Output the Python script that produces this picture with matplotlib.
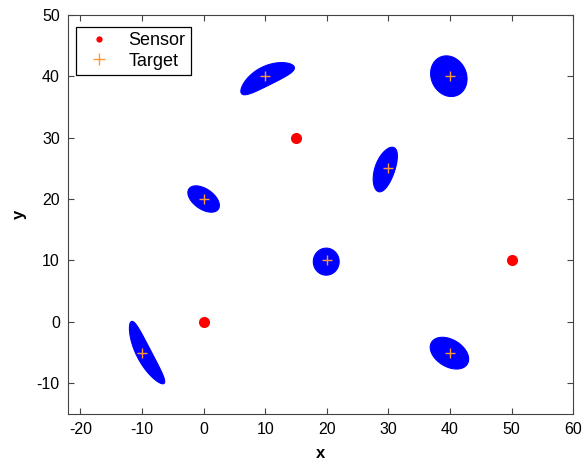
import numpy as np
import matplotlib
matplotlib.use("Agg")
import matplotlib.pyplot as plt

plt.rcParams['font.family'] = ['Liberation Sans', 'DejaVu Sans']
plt.rcParams['axes.unicode_minus'] = False

# sensor and target positions
sensor_x = [0, 15, 50]
sensor_y = [0, 30, 10]
target_x = [-10, 0, 10, 20, 30, 40, 40]
target_y = [-5, 20, 40, 10, 25, 40, -5]

# uncertainty regions: centre, semi axes, angle (deg), bend
blob_cx = [-9.1, 0.0, 10.4, 19.9, 29.6, 39.8, 39.9]
blob_cy = [-5.0, 20.0, 39.4, 9.8, 24.8, 40.0, -5.1]
blob_a = [5.7, 2.9, 4.8, 2.2, 3.8, 3.4, 3.4]
blob_b = [1.2, 1.65, 1.55, 2.1, 1.6, 2.85, 2.2]
blob_ang = [117.5, -35, 26.6, 90, 71, 115, -31.5]
blob_bend = [0.6, 0.0, 0.7, 0.0, 0.2, 0.0, 0.0]


def banana(cx, cy, a, b, ang, bend, n=200):
    t = np.linspace(0, 2 * np.pi, n)
    u = a * np.cos(t)
    v = b * np.sin(t) + bend * (1 - (u / a) ** 2)
    th = np.deg2rad(ang)
    x = cx + u * np.cos(th) - v * np.sin(th)
    y = cy + u * np.sin(th) + v * np.cos(th)
    return x, y


fig = plt.figure(figsize=(5.82, 4.62), dpi=100)
ax = fig.add_axes([0.117, 0.104, 0.868, 0.864])

for i in range(len(blob_cx)):
    bx, by = banana(blob_cx[i], blob_cy[i], blob_a[i], blob_b[i], blob_ang[i], blob_bend[i])
    ax.fill(bx, by, color=(0, 0, 1), lw=0.8, ec=(0, 0, 1), zorder=1)

ax.plot(sensor_x, sensor_y, 'o', color='red', ms=8, mec='none', ls='none',
        label='Sensor', zorder=3)
ax.plot(target_x, target_y, '+', color='#FF9933', ms=7, mew=1.0, ls='none',
        label='Target', zorder=3)

ax.set_xlim(-22, 60)
ax.set_ylim(-15, 50)
ax.set_xticks(np.arange(-20, 61, 10))
ax.set_yticks(np.arange(-10, 51, 10))
ax.tick_params(direction='in', top=True, right=True, labelsize=11.5, length=4,
               color='#444444', pad=6)
for s in ax.spines.values():
    s.set_color('#444444')

ax.set_xlabel('x', fontsize=12, fontweight='bold', labelpad=6)
ax.set_ylabel('y', fontsize=12, fontweight='bold', labelpad=7)

leg = ax.legend(loc='upper left', bbox_to_anchor=(8 / 505, 1 - 12 / 399),
                fontsize=13, fancybox=False, edgecolor='black', framealpha=1,
                borderaxespad=0, handlelength=1.9, handletextpad=0.7,
                borderpad=0.3, labelspacing=0.2)
leg.get_frame().set_linewidth(0.9)
leg.legend_handles[0].set_markersize(4.5)
leg.legend_handles[1].set_markersize(8)

fig.savefig('out.png', dpi=100)
